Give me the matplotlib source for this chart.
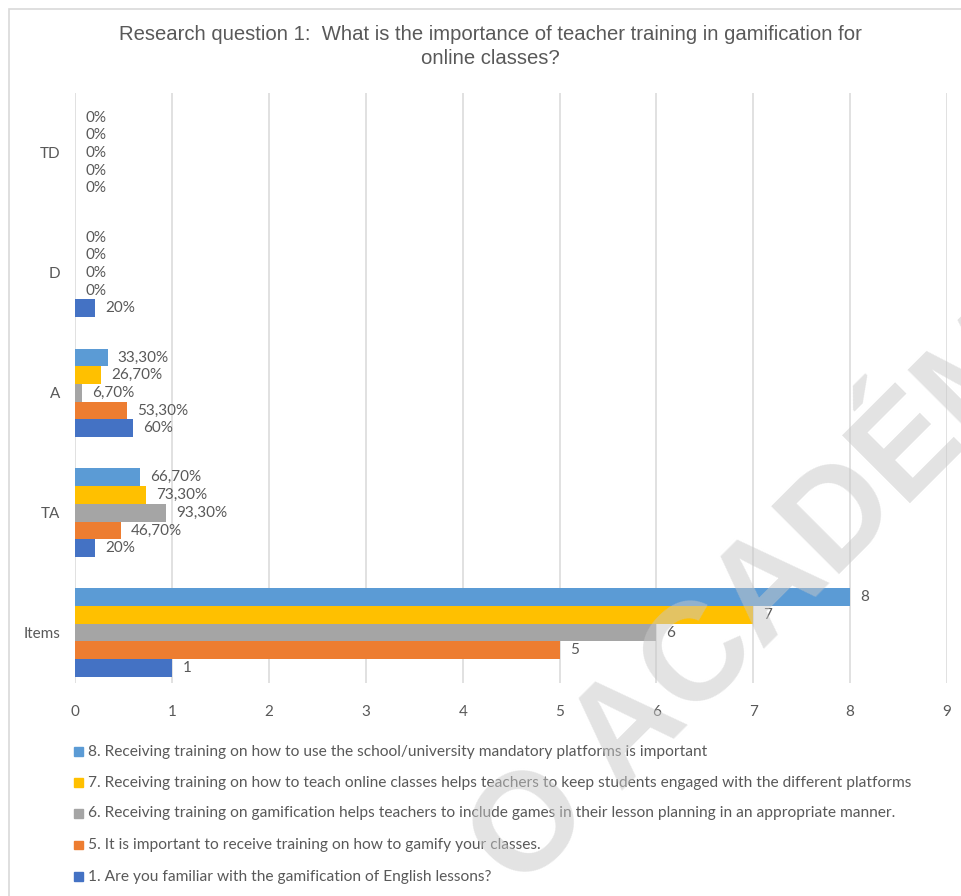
import matplotlib.pyplot as plt
import numpy as np
from matplotlib.patches import Rectangle

# categories from top to bottom
categories = ['TD', 'D', 'A', 'TA', 'Items']

series_names = [
    '8. Receiving training on how to use the school/university mandatory platforms is important',
    '7. Receiving training on how to teach online classes helps teachers to keep students engaged with the different platforms',
    '6. Receiving training on gamification helps teachers to include games in their lesson planning in an appropriate manner.',
    '5. It is important to receive training on how to gamify your classes.',
    '1. Are you familiar with the gamification of English lessons?',
]
colors = ['#5B9BD5', '#FFC000', '#A5A5A5', '#ED7D31', '#4472C4']

# shares for TD/D/A/TA, item number for the Items row
item8 = [0, 0, 0.333, 0.667, 8]
item7 = [0, 0, 0.267, 0.733, 7]
item6 = [0, 0, 0.067, 0.933, 6]
item5 = [0, 0, 0.533, 0.467, 5]
item1 = [0, 0.2, 0.6, 0.2, 1]
series_values = [item8, item7, item6, item5, item1]

x_ticks = list(range(0, 10))

TEXT = '#595959'
BODY_FONT = ['Lato', 'DejaVu Sans']


def fmt_label(cat, v):
    if cat == 'Items':
        return str(int(v))
    pct = v * 100
    if abs(pct - round(pct)) < 1e-6:
        return f'{int(round(pct))}%'
    return f'{pct:.2f}%'.replace('.', ',')


W, H = 961, 896
fig = plt.figure(figsize=(W / 100, H / 100), dpi=100)
fig.patch.set_facecolor('white')

# chart frame
fig.patches.append(Rectangle((9 / W, -0.1), 1.2, 1 - 9 / H + 0.1, transform=fig.transFigure,
                             fill=False, edgecolor='#d9d9d9', lw=1.2))

ax = fig.add_axes([75.3 / W, 1 - 683 / H, (947 - 75.3) / W, (683 - 93) / H])

y = np.arange(len(categories))
h = 0.1475
for i, (vals, c) in enumerate(zip(series_values, colors)):
    ypos = y + (i - 2) * h
    ax.barh(ypos, vals, height=h, color=c, zorder=3)
    for yy, v, cat in zip(ypos, vals, categories):
        ax.annotate(fmt_label(cat, v), (v, yy), xytext=(7.3, 0), textcoords='offset points',
                    va='center', ha='left', fontsize=11, color=TEXT, family=BODY_FONT, zorder=4)

ax.set_xlim(0, 9)
ax.set_ylim(4.42, -0.5)
ax.set_xticks(x_ticks)
ax.set_yticks(y)
ax.set_yticklabels(categories)
ax.grid(axis='x', color='#d9d9d9', lw=1.1, zorder=0)
ax.grid(axis='y', visible=False)
for s in ax.spines.values():
    s.set_visible(False)
ax.tick_params(axis='both', length=0, labelsize=11, labelcolor=TEXT)
ax.tick_params(axis='x', pad=16)
ax.tick_params(axis='y', pad=11)
for lab in ax.get_xticklabels() + ax.get_yticklabels():
    lab.set_family(BODY_FONT)

# title
TITLE_FONT = ['Liberation Sans', 'DejaVu Sans']
fig.text(490 / W, 1 - 35 / H, 'Research question 1:  What is the importance of teacher training in gamification for',
         ha='center', va='center', fontsize=14.6, color=TEXT, family=TITLE_FONT)
fig.text(490 / W, 1 - 59 / H, 'online classes?',
         ha='center', va='center', fontsize=14.6, color=TEXT, family=TITLE_FONT)

# legend
row_y = [751.7, 782.5, 813.5, 845, 876.7]
for name, c, ry in zip(series_names, colors, row_y):
    fig.patches.append(Rectangle((74 / W, 1 - (ry + 4.3) / H), 8.7 / W, 8.7 / H,
                                 transform=fig.transFigure, color=c))
    fig.text(88 / W, 1 - ry / H, name, ha='left', va='center', fontsize=11.2,
             color=TEXT, family=BODY_FONT)

# watermark
fig.text(520 / W, 1 - 893 / H, 'O ACADÉMICO', rotation=45, rotation_mode='anchor',
         ha='left', va='baseline', fontsize=100, fontweight='bold', color='#c8c8c8',
         alpha=0.5, family=['Liberation Sans', 'DejaVu Sans'], zorder=10)

fig.savefig('out.png', dpi=100)
